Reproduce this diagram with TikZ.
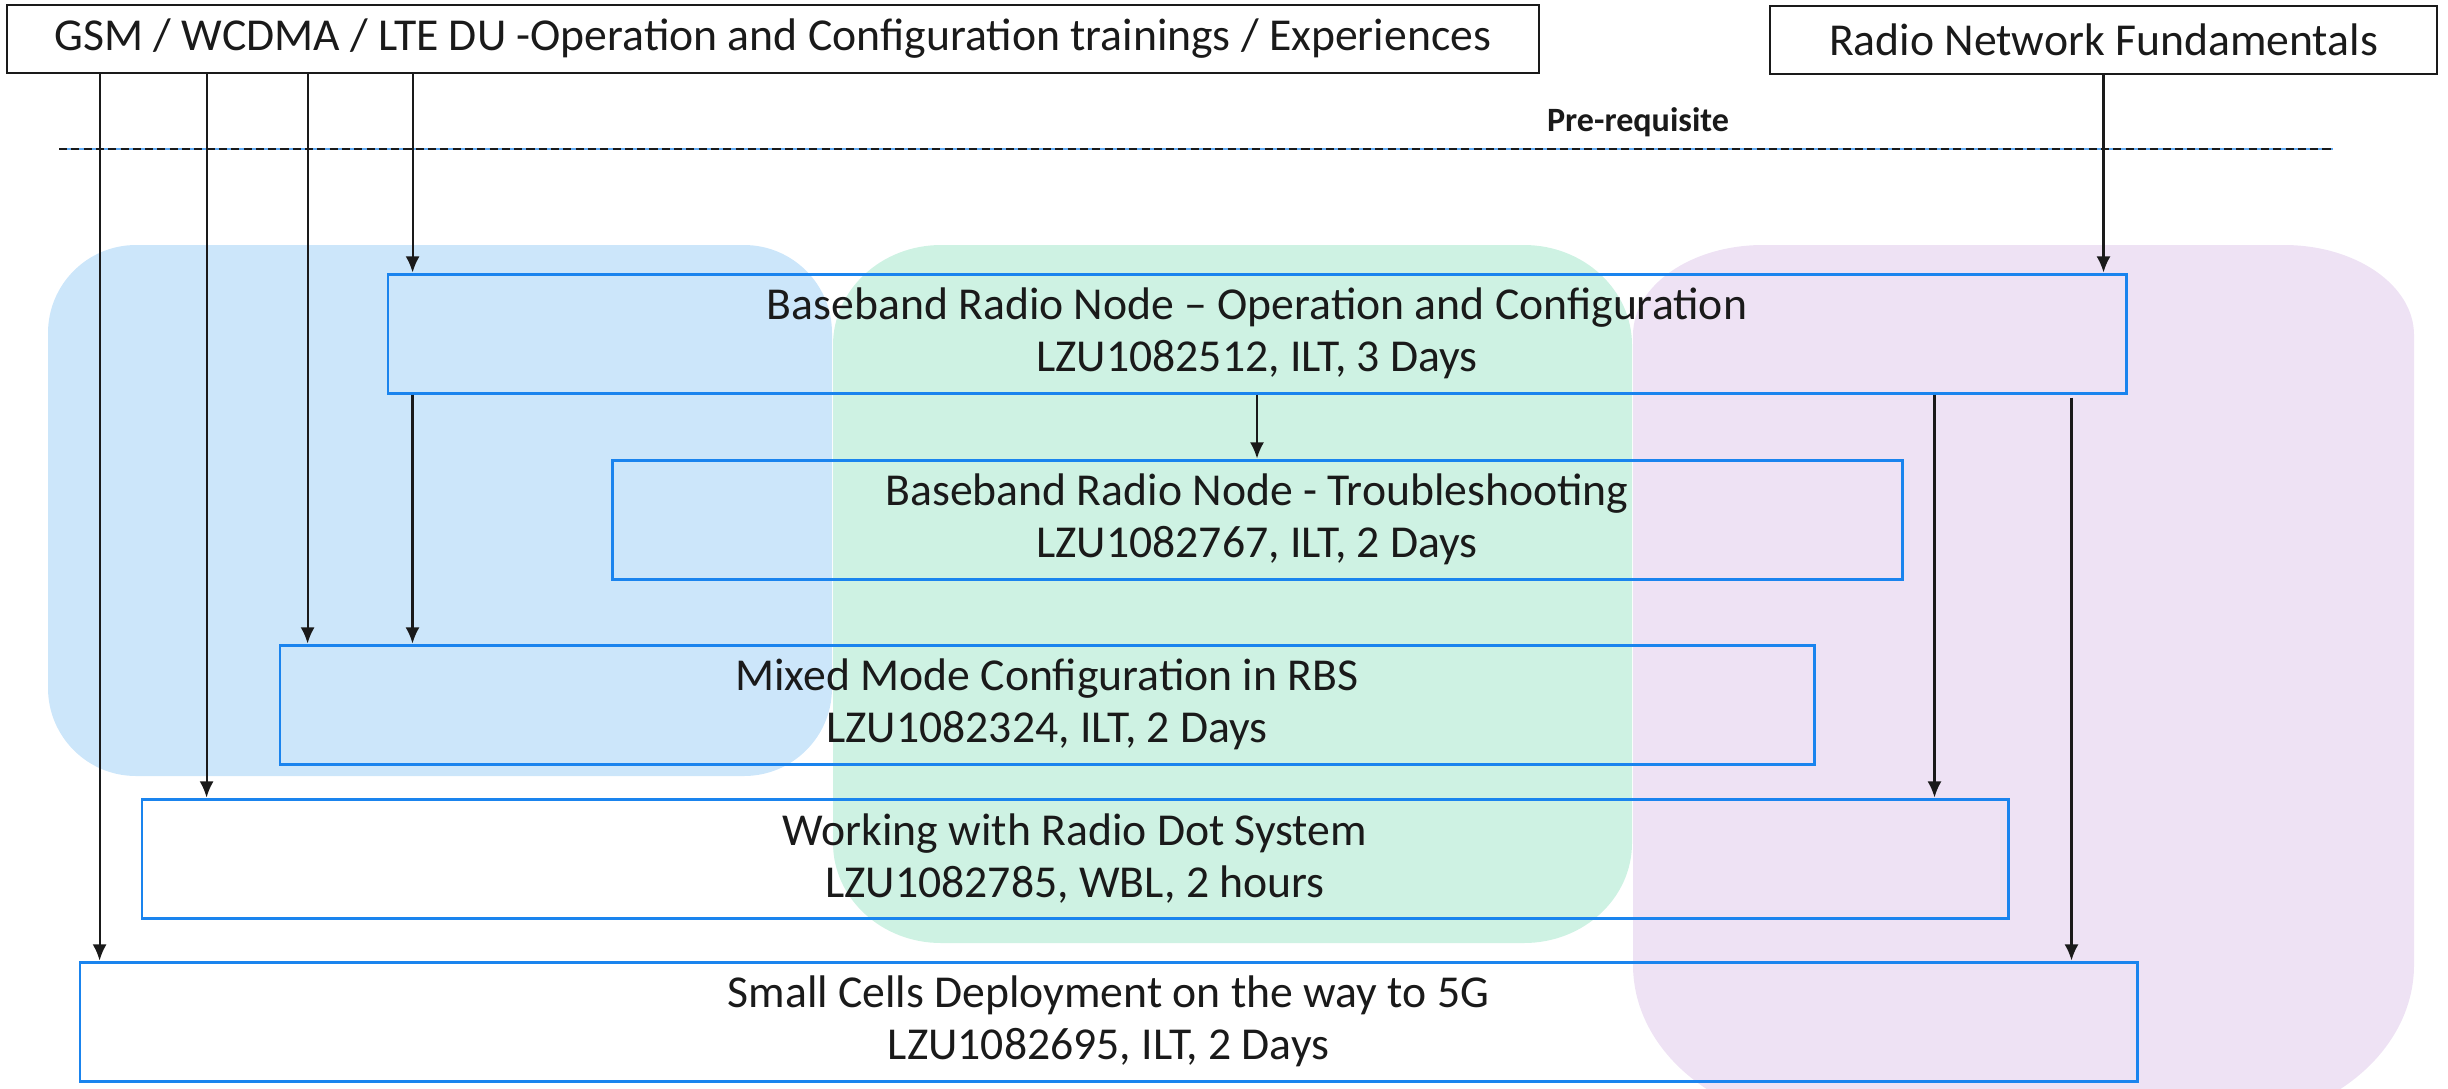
\documentclass[tikz,border=0pt]{standalone}
\usepackage{fontspec}
\setmainfont{Carlito}
\usetikzlibrary{arrows.meta}
\usetikzlibrary{positioning}
\definecolor{regblue}{HTML}{CCE6FA}
\definecolor{regmint}{HTML}{CEF2E3}
\definecolor{reglilac}{HTML}{EEE2F4}
\definecolor{coursebd}{HTML}{1A84EE}
\definecolor{inkdark}{HTML}{1A1A1A}
\begin{document}
\begin{tikzpicture}[
        txt/.style={text=inkdark,align=center,font=\fontsize{13}{14.9}\selectfont},
        prebox/.style={txt,draw=inkdark,line width=0.8pt,inner sep=0pt,minimum height=0.68cm},
        course/.style={txt,draw=coursebd,line width=0.85pt,inner sep=0pt,minimum height=1.19cm},
        arr/.style={-{Latex[length=4.6pt,width=4pt]},draw=inkdark,line width=0.6pt}
    ]
                    \clip (0,0) rectangle (24.48,-10.88);

                    \fill[regblue] (1.36,-2.45) -- (7.44,-2.45)
                        arc[start angle=90,end angle=0,x radius=0.88,y radius=0.88] -- (8.32,-6.88)
                        arc[start angle=0,end angle=-90,x radius=0.88,y radius=0.88] -- (1.36,-7.76)
                        arc[start angle=270,end angle=180,x radius=0.88,y radius=0.88] -- (0.48,-3.33)
                        arc[start angle=180,end angle=90,x radius=0.88,y radius=0.88] -- cycle;
                    \fill[regmint] (9.41,-2.45) -- (15.24,-2.45)
                        arc[start angle=90,end angle=0,x radius=1.08,y radius=1.0] -- (16.32,-8.43)
                        arc[start angle=0,end angle=-90,x radius=1.08,y radius=1.0] -- (9.41,-9.43)
                        arc[start angle=270,end angle=180,x radius=1.08,y radius=1.0] -- (8.33,-3.45)
                        arc[start angle=180,end angle=90,x radius=1.08,y radius=1.0] -- cycle;
                    \fill[reglilac] (17.63,-2.45) -- (22.84,-2.45)
                        arc[start angle=90,end angle=0,x radius=1.3,y radius=0.9] -- (24.14,-9.65)
                        arc[start angle=0,end angle=-90,x radius=2.0,y radius=1.6] -- (18.33,-11.25)
                        arc[start angle=270,end angle=180,x radius=2.0,y radius=1.6] -- (16.33,-3.35)
                        arc[start angle=180,end angle=90,x radius=1.3,y radius=0.9] -- cycle;

                    \draw[coursebd!70,line width=0.3pt] (0.59,-1.49) -- (23.33,-1.49);
                    \draw[inkdark,line width=0.8pt,dash pattern=on 2.3pt off 1.2pt] (0.59,-1.49) -- (23.33,-1.49);
                    \node[text=inkdark,font=\fontsize{9.7}{11}\selectfont\bfseries] (prereq) at (16.38,-1.22) {Pre-requisite};

                    \node[prebox,minimum width=15.32cm] (gsm) at (7.73,-0.39) {GSM / WCDMA / LTE DU -Operation and Configuration trainings / Experiences};
                    \node[prebox,minimum width=6.67cm] (rnf) at (21.035,-0.40) {Radio Network Fundamentals};

                    \node[course,minimum width=17.38cm] (bbo) at (12.57,-3.335) {Baseband Radio Node -- Operation and Configuration\\LZU1082512, ILT, 3 Days};
                    \node[course,minimum width=12.90cm] (bbt) at (12.57,-5.195) {Baseband Radio Node - Troubleshooting\\LZU1082767, ILT, 2 Days};
                    \node[course,minimum width=15.34cm] (mmc) at (10.47,-7.045) {Mixed Mode Configuration in RBS\\LZU1082324, ILT, 2 Days};
                    \node[course,minimum width=18.66cm] (rds) at (10.75,-8.585) {Working with Radio Dot System\\LZU1082785, WBL, 2 hours};
                    \node[course,minimum width=20.57cm] (scd) at (11.085,-10.215) {Small Cells Deployment on the way to 5G\\LZU1082695, ILT, 2 Days};

                    \draw[arr] ([xshift=0.94cm]gsm.south west) coordinate (g1) -- (g1 |- scd.north);
                    \draw[arr] ([xshift=2.01cm]gsm.south west) coordinate (g2) -- (g2 |- rds.north);
                    \draw[arr] ([xshift=3.02cm]gsm.south west) coordinate (g3) -- (g3 |- mmc.north);
                    \draw[arr] ([xshift=4.07cm]gsm.south west) coordinate (g4) -- (g4 |- bbo.north);
                    \draw[arr] (rnf.south) -- (rnf.south |- bbo.north);

                    \draw[arr] ([xshift=0.26cm]bbo.south west) coordinate (b1) -- (b1 |- mmc.north);
                    \draw[arr] (bbo.south) -- (bbt.north);
                    \draw[arr] ([xshift=-1.93cm]bbo.south east) coordinate (b2) -- (b2 |- rds.north);
                    \draw[arr] ([xshift=-0.56cm,yshift=-0.03cm]bbo.south east) coordinate (b3) -- (b3 |- scd.north);
\end{tikzpicture}
\end{document}
